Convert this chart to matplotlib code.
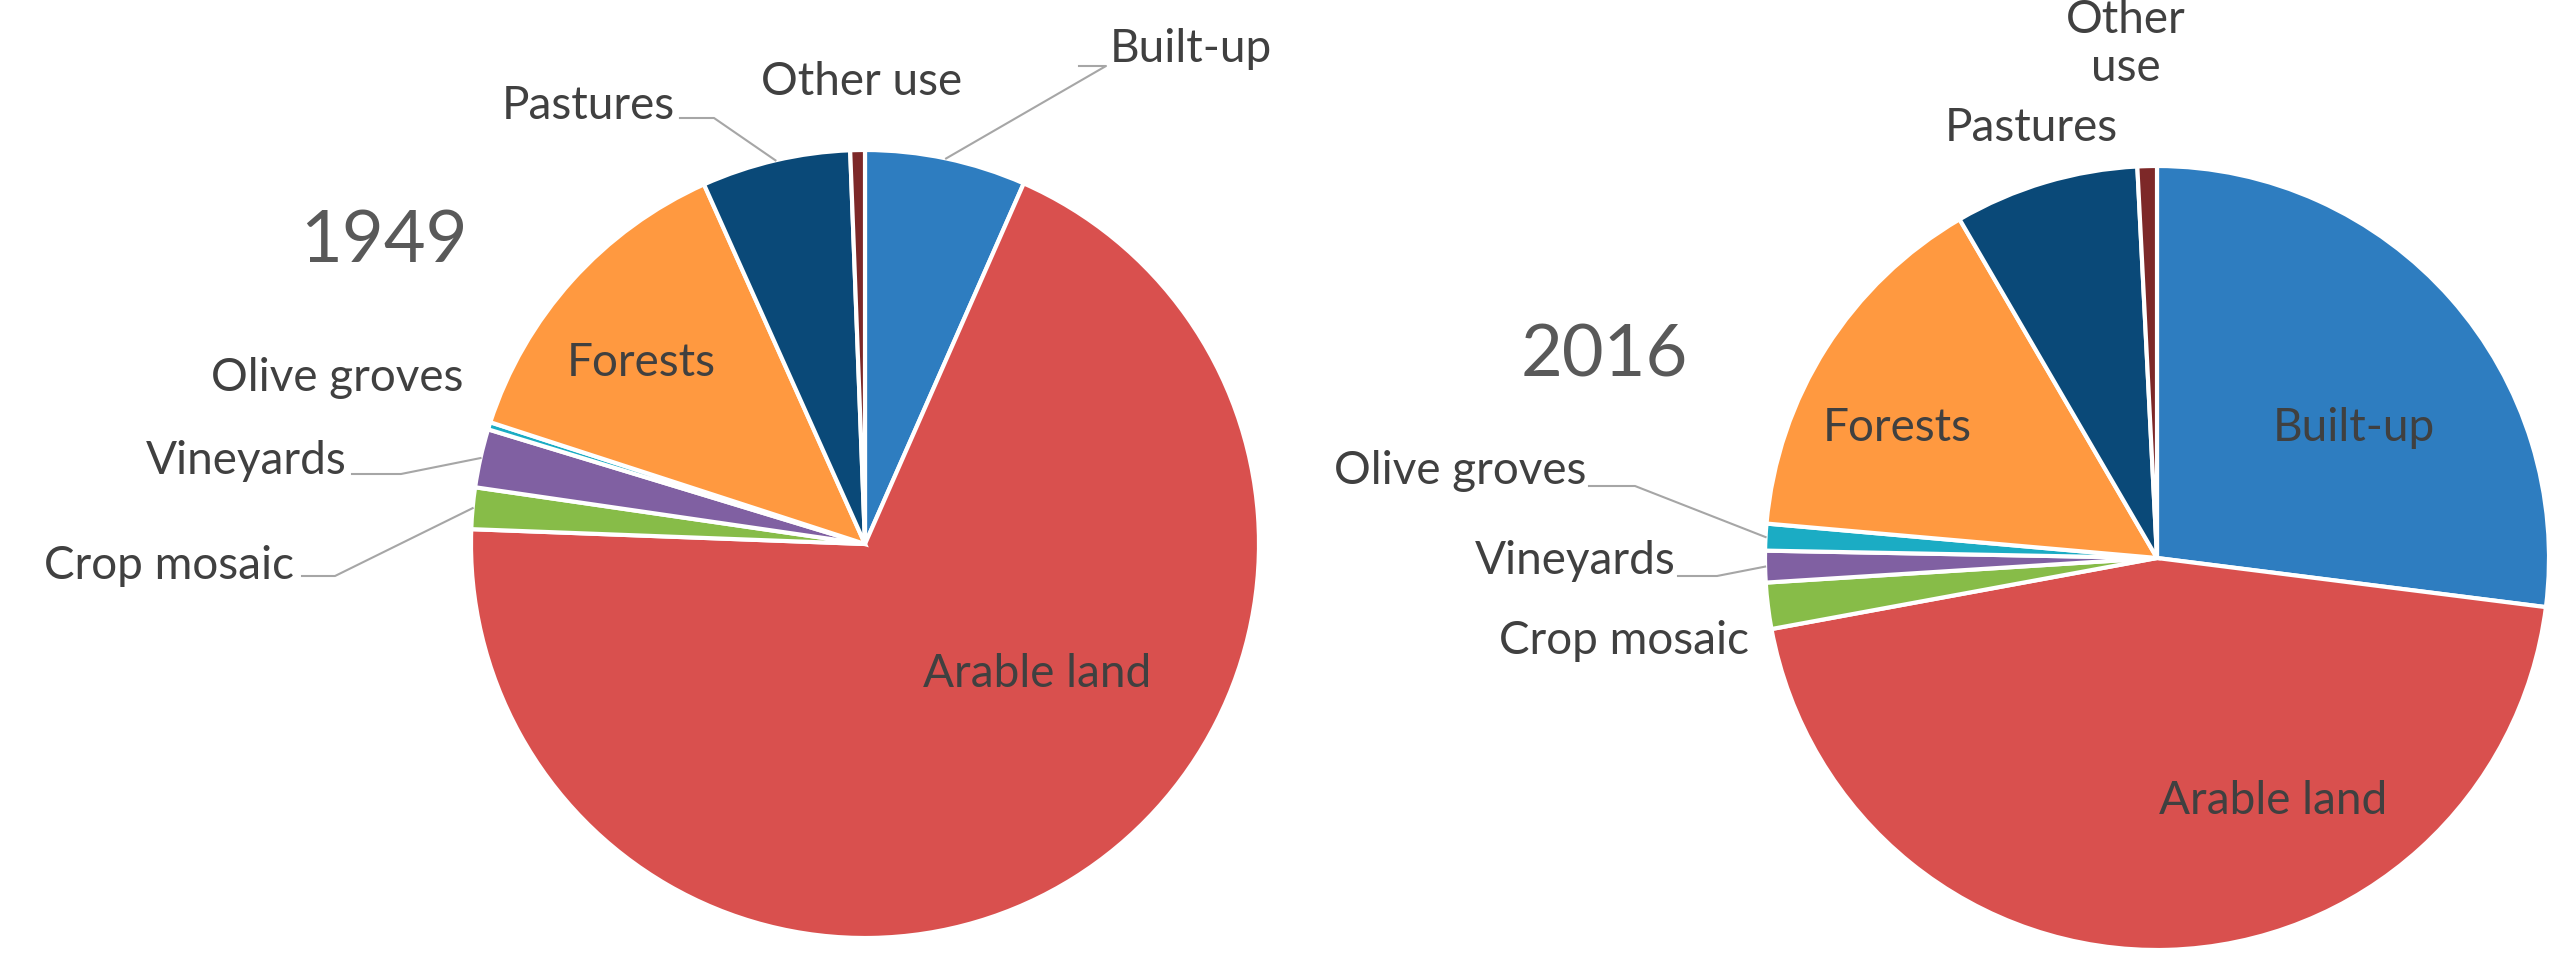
import numpy as np
import matplotlib
matplotlib.use("Agg")
import matplotlib.pyplot as plt

# land-use shares (%), slices run clockwise from 12 o'clock
CATEGORIES = ["Built-up", "Arable land", "Crop mosaic", "Vineyards",
              "Olive groves", "Forests", "Pastures", "Other use"]
SHARE_1949 = [6.6, 69.0, 1.7, 2.4, 0.3, 13.3, 6.1, 0.6]
SHARE_2016 = [27.0, 45.1, 1.9, 1.3, 1.1, 15.2, 7.6, 0.8]
YEARS = ["1949", "2016"]

COLORS = ["#2E7DC0", "#D9504E", "#87BC48", "#8060A2",
          "#1BACC4", "#FF9940", "#0A4978", "#7D2828"]

W, H = 2564, 960
TXT = "#404040"
FONT = "Lato"

# pie geometry in reference pixels: centre x, centre y, radius
PIES = [(865, 544, 394), (2157, 558, 392)]

# label layout (reference pixels): x, y, ha, leader stub (x0, x1, y) or None
LAYOUT_1949 = {
    "Built-up": (1110, 49, "left", (1079, 1106, 66)),
    "Other use": (862, 82, "center", None),
    "Pastures": (675, 106, "right", (680, 714, 118)),
    "Olive groves": (463, 378, "right", None),
    "Vineyards": (347, 461, "right", (352, 401, 474)),
    "Crop mosaic": (294, 566, "right", (302, 335, 576)),
    "Forests": (641, 363, "center", None),
    "Arable land": (1037, 674, "center", None),
}
LAYOUT_2016 = {
    "Other use": (2126, 44, "center", None),
    "Pastures": (2031, 128, "center", None),
    "Olive groves": (1586, 471, "right", (1589, 1635, 486)),
    "Vineyards": (1676, 561, "right", (1678, 1717, 576)),
    "Crop mosaic": (1749, 641, "right", None),
    "Forests": (1897, 428, "center", None),
    "Built-up": (2354, 428, "center", None),
    "Arable land": (2273, 801, "center", None),
}
YEAR_POS = [(384, 242), (1604, 356)]


def draw_pie(fig, geom, shares, layout, year, year_pos):
    cx, cy, r = geom
    ax = fig.add_axes([(cx - r) / W, (H - cy - r) / H, 2 * r / W, 2 * r / H])
    wedges, _ = ax.pie(shares, colors=COLORS, startangle=90, counterclock=False,
                       radius=1.0, wedgeprops=dict(edgecolor="white", linewidth=3))
    ax.set_xlim(-1, 1)
    ax.set_ylim(-1, 1)
    ax.axis("off")

    def to_data(x, y):
        return (x - cx) / r, (cy - y) / r

    for name, (x, y, ha, stub) in layout.items():
        tx, ty = to_data(x, y)
        label = "Other\nuse" if (name == "Other use" and year == "2016") else name
        ax.text(tx, ty, label, ha=ha, va="center", fontsize=33, color=TXT,
                family=FONT, clip_on=False, linespacing=1.15)
        if stub is not None:
            w = wedges[CATEGORIES.index(name)]
            mid = np.deg2rad((w.theta1 + w.theta2) / 2)
            ex, ey = np.cos(mid), np.sin(mid)
            x0, y0 = to_data(stub[0], stub[2])
            x1, _ = to_data(stub[1], stub[2])
            ax.plot([x0, x1, ex], [y0, y0, ey], color="#A6A6A6", lw=1.5,
                    clip_on=False)

    yx, yy = to_data(*year_pos)
    ax.text(yx, yy, year, ha="center", va="center", fontsize=52,
            color="#595959", family=FONT, clip_on=False)


def main():
    fig = plt.figure(figsize=(W / 100, H / 100), dpi=100)
    fig.patch.set_facecolor("white")
    draw_pie(fig, PIES[0], SHARE_1949, LAYOUT_1949, YEARS[0], YEAR_POS[0])
    draw_pie(fig, PIES[1], SHARE_2016, LAYOUT_2016, YEARS[1], YEAR_POS[1])
    fig.savefig("out.png", dpi=100)
    plt.close(fig)


if __name__ == "__main__":
    main()
